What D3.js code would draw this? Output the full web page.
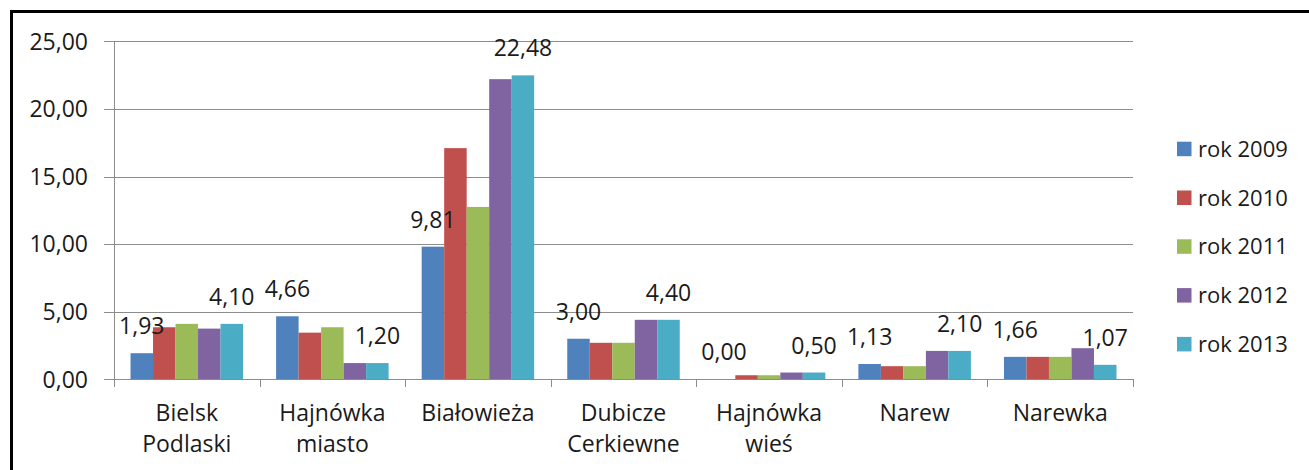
<!DOCTYPE html>
<html lang="pl">
<head>
  <meta charset="UTF-8">
  <title>rok 2009-2013</title>
  <script src="https://d3js.org/d3.v7.min.js"></script>
  <style>
    body { margin: 0; background: white; }
    svg text { font-family: "Open Sans", sans-serif; fill: #1a1a1a; }
  </style>
</head>
<body>
  <svg id="chart" width="1309" height="470"></svg>

  <script>
    const categories = [["Bielsk", "Podlaski"], ["Hajnówka", "miasto"], ["Białowieża"], ["Dubicze", "Cerkiewne"], ["Hajnówka", "wieś"], ["Narew"], ["Narewka"]];
    const years = ["rok 2009", "rok 2010", "rok 2011", "rok 2012", "rok 2013"];
    const v2009 = [1.93, 4.66, 9.81, 3.00, 0.00, 1.13, 1.66];
    const v2010 = [3.85, 3.45, 17.10, 2.70, 0.30, 0.97, 1.66];
    const v2011 = [4.10, 3.85, 12.75, 2.70, 0.30, 0.97, 1.66];
    const v2012 = [3.75, 1.20, 22.20, 4.40, 0.50, 2.10, 2.30];
    const v2013 = [4.10, 1.20, 22.48, 4.40, 0.50, 2.10, 1.07];
    const yTicks = [0, 5, 10, 15, 20, 25];
    // only first and last series carry data labels
    const labeledSeries = ["rok 2009", "rok 2013"];
    const colors = ["#4F81BD", "#C0504D", "#9BBB59", "#8064A2", "#4BACC6"];

    const series = [v2009, v2010, v2011, v2012, v2013];
    const fmt = v => v.toFixed(2).replace(".", ",");

    const svg = d3.select("#chart");
    const catNames = categories.map(c => c.join(" "));

    const x0 = d3.scaleBand().domain(catNames).range([114, 1133]).paddingInner(0).paddingOuter(0);
    const x1 = d3.scaleBand().domain(years).range([0, x0.bandwidth()]).paddingInner(0).paddingOuter(0.735);
    const y = d3.scaleLinear().domain([0, 25]).range([379.3, 41.3]);
    const color = d3.scaleOrdinal().domain(years).range(colors);

    // outer frame (left and top edges only are visible)
    svg.append("path")
      .attr("d", "M11.5,470 V11.5 H1309")
      .attr("fill", "none")
      .attr("stroke", "#000")
      .attr("stroke-width", 3);

    // gridlines
    svg.append("g").selectAll("line")
      .data(yTicks)
      .enter().append("line")
      .attr("x1", 104).attr("x2", 1133)
      .attr("y1", d => Math.round(y(d)) + 0.5)
      .attr("y2", d => Math.round(y(d)) + 0.5)
      .attr("stroke", "#8c8c8c")
      .attr("stroke-width", 1);

    // y tick labels
    svg.append("g").selectAll("text")
      .data(yTicks)
      .enter().append("text")
      .attr("x", 88)
      .attr("y", d => y(d))
      .attr("dy", "0.36em")
      .attr("text-anchor", "end")
      .style("font-size", "23px")
      .text(fmt);

    // bars
    const groups = svg.append("g").selectAll("g")
      .data(catNames)
      .enter().append("g")
      .attr("transform", d => "translate(" + x0(d) + ",0)");

    groups.selectAll("rect")
      .data((d, i) => years.map((yr, j) => ({ year: yr, value: series[j][i] })))
      .enter().append("rect")
      .attr("x", d => x1(d.year))
      .attr("width", x1.bandwidth())
      .attr("y", d => y(d.value))
      .attr("height", d => y(0) - y(d.value))
      .attr("fill", d => color(d.year));

    // value axis and category axis lines
    svg.append("line")
      .attr("x1", 114.5).attr("x2", 114.5)
      .attr("y1", 41).attr("y2", 380)
      .attr("stroke", "#8c8c8c");
    svg.append("line")
      .attr("x1", 104).attr("x2", 1133)
      .attr("y1", 379.5).attr("y2", 379.5)
      .attr("stroke", "#8c8c8c");

    const catTicks = catNames.map(c => x0(c)).concat([x0.range()[1]]);
    svg.append("g").selectAll("line")
      .data(catTicks)
      .enter().append("line")
      .attr("x1", d => Math.round(d) + 0.5).attr("x2", d => Math.round(d) + 0.5)
      .attr("y1", 379).attr("y2", 387)
      .attr("stroke", "#8c8c8c");

    // data labels
    groups.selectAll("text.val")
      .data((d, i) => years.map((yr, j) => ({ year: yr, value: series[j][i] }))
        .filter(d => labeledSeries.includes(d.year)))
      .enter().append("text")
      .attr("class", "val")
      .attr("x", d => x1(d.year) + x1.bandwidth() / 2)
      .attr("y", d => y(d.value) - 19)
      .attr("text-anchor", "middle")
      .style("font-size", "23px")
      .text(d => fmt(d.value));

    // category labels
    svg.append("g").selectAll("text")
      .data(categories)
      .enter().append("text")
      .attr("text-anchor", "middle")
      .attr("transform", d => "translate(" + (x0(d.join(" ")) + x0.bandwidth() / 2) + ",421)")
      .style("font-size", "23px")
      .selectAll("tspan")
      .data(d => d)
      .enter().append("tspan")
      .attr("x", 0)
      .attr("y", (d, i) => i * 31)
      .text(d => d);

    // legend
    const legend = svg.append("g").selectAll("g")
      .data(years)
      .enter().append("g")
      .attr("transform", (d, i) => "translate(1177," + (141.7 + i * 48.8) + ")");

    legend.append("rect")
      .attr("width", 14.5)
      .attr("height", 14.5)
      .attr("fill", d => color(d));

    legend.append("text")
      .attr("x", 21)
      .attr("y", 15)
      .style("font-size", "22px")
      .text(d => d);
  </script>
</body>
</html>
